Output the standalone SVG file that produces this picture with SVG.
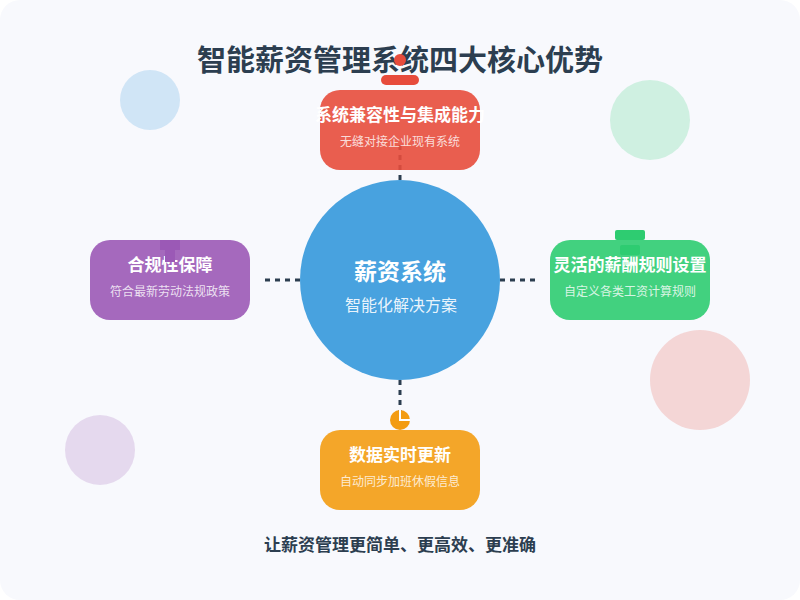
<svg xmlns="http://www.w3.org/2000/svg" width="800" height="600" viewBox="0 0 800 600">
<style>
text{font-family:"Liberation Sans","Noto Sans CJK SC",sans-serif;text-anchor:middle}
.t{font-size:17px;font-weight:700;fill:#fff}
.s{font-size:12px;fill:#fff;fill-opacity:.8}
.card{opacity:.9}
.deco{opacity:.2}
.c{stroke:#2c3e50;stroke-width:3;stroke-dasharray:5 5;fill:none}
</style>
<rect width="800" height="600" rx="20" fill="#f8f9fd"/>
<g id="decor">
<circle class="deco" cx="150" cy="100" r="30" fill="#3498db"/>
<circle class="deco" cx="650" cy="120" r="40" fill="#2ecc71"/>
<circle class="deco" cx="700" cy="380" r="50" fill="#e74c3c"/>
<circle class="deco" cx="100" cy="450" r="35" fill="#9b59b6"/>
</g>
<text id="title" x="400" y="71" font-size="29" font-weight="700" fill="#2c3e50">智能薪资管理系统四大核心优势</text>
<g id="connectors">
<line class="c" x1="400" y1="180" x2="400" y2="145"/>
<line class="c" x1="500" y1="280" x2="535" y2="280"/>
<line class="c" x1="400" y1="380" x2="400" y2="415"/>
<line class="c" x1="300" y1="280" x2="265" y2="280"/>
</g>
<g id="center">
<circle cx="400" cy="280" r="100" fill="#3498db" opacity=".9"/>
<text x="400" y="280" font-size="23" font-weight="700" fill="#fff">薪资系统</text>
<text x="401" y="311" font-size="16" fill="#fff" fill-opacity=".9">智能化解决方案</text>
</g>
<g id="node-top">
<rect class="card" x="320" y="90" width="160" height="80" rx="20" fill="#e74c3c"/>
<text class="t" x="400" y="121">系统兼容性与集成能力</text>
<text class="s" x="400" y="146">无缝对接企业现有系统</text>
<circle cx="400" cy="60" r="6" fill="#e74c3c"/>
<rect x="381" y="75" width="38" height="10" rx="5" fill="#e74c3c"/>
</g>
<g id="node-right">
<rect class="card" x="550" y="240" width="160" height="80" rx="20" fill="#2ecc71"/>
<text class="t" x="630" y="271">灵活的薪酬规则设置</text>
<text class="s" x="630" y="296">自定义各类工资计算规则</text>
<rect x="615" y="230" width="30" height="10" rx="2" fill="#2ecc71"/>
<rect x="620" y="245" width="20" height="10" rx="2" fill="#2ecc71"/>
</g>
<g id="node-bottom">
<rect class="card" x="320" y="430" width="160" height="80" rx="20" fill="#f39c12"/>
<text class="t" x="400" y="461">数据实时更新</text>
<text class="s" x="400" y="486">自动同步加班休假信息</text>
<circle cx="400" cy="420" r="10" fill="#f39c12"/>
<path d="M400 410V420H410" fill="none" stroke="#fff" stroke-width="2"/>
</g>
<g id="node-left">
<rect class="card" x="90" y="240" width="160" height="80" rx="20" fill="#9b59b6"/>
<text class="t" x="170" y="271">合规性保障</text>
<text class="s" x="170" y="296">符合最新劳动法规政策</text>
<rect x="160" y="240" width="20" height="10" fill="#9b59b6"/>
<rect x="165" y="250" width="10" height="12" fill="#9b59b6"/>
</g>
<text id="footer" x="400" y="551" font-size="17" font-weight="700" fill="#2c3e50">让薪资管理更简单、更高效、更准确</text>
</svg>
